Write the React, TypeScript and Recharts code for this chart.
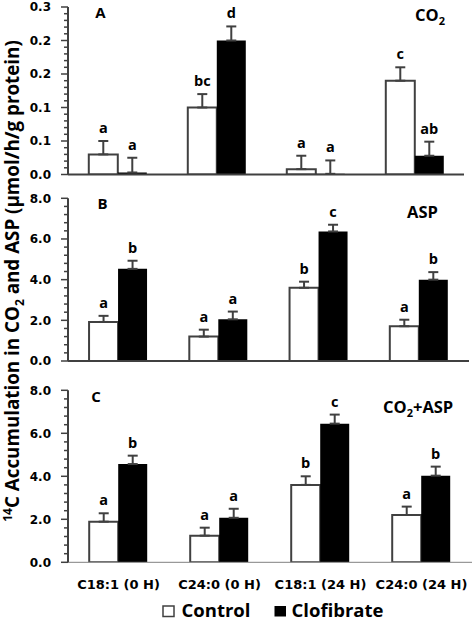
import React from 'react';
import { BarChart, Bar, XAxis, YAxis, ErrorBar, LabelList } from 'recharts';

const categories = ['C18:1 (0 H)', 'C24:0 (0 H)', 'C18:1 (24 H)', 'C24:0 (24 H)'];
const seriesNames = ['Control', 'Clofibrate'];

// Panel A: CO2
const co2Control = [0.03, 0.1, 0.008, 0.14];
const co2ControlErr = [0.02, 0.02, 0.02, 0.02];
const co2ControlSig = ['a', 'bc', 'a', 'c'];
const co2Clofibrate = [0.003, 0.2, 0.001, 0.028];
const co2ClofibrateErr = [0.022, 0.021, 0.02, 0.021];
const co2ClofibrateSig = ['a', 'd', 'a', 'ab'];
const co2TickLabels = ['0.0', '0.1', '0.1', '0.2', '0.2', '0.3'];

// Panel B: ASP
const aspControl = [1.92, 1.2, 3.6, 1.71];
const aspControlErr = [0.3, 0.34, 0.3, 0.32];
const aspControlSig = ['a', 'a', 'b', 'a'];
const aspClofibrate = [4.53, 2.05, 6.37, 4.0];
const aspClofibrateErr = [0.4, 0.38, 0.33, 0.37];
const aspClofibrateSig = ['b', 'a', 'c', 'b'];
const aspTickLabels = ['0.0', '2.0', '4.0', '6.0', '8.0'];

// Panel C: CO2 + ASP
const totControl = [1.89, 1.24, 3.6, 2.2];
const totControlErr = [0.39, 0.37, 0.4, 0.39];
const totControlSig = ['a', 'a', 'b', 'a'];
const totClofibrate = [4.57, 2.07, 6.45, 4.03];
const totClofibrateErr = [0.39, 0.42, 0.42, 0.42];
const totClofibrateSig = ['b', 'a', 'c', 'b'];
const totTickLabels = ['0.0', '2.0', '4.0', '6.0', '8.0'];

const DARK = '#404040';
const TICK_FONT = "'DejaVu Sans', sans-serif";
const TEXT_FONT = "'Open Sans', sans-serif";

function buildRows(
  ctrl: number[], ctrlErr: number[], ctrlSig: string[],
  clof: number[], clofErr: number[], clofSig: string[]
) {
  return categories.map((cat, i) => ({
    cat,
    pos: i + 0.5,
    ctrl: ctrl[i],
    ctrlErr: [0, ctrlErr[i]],
    ctrlGap: ctrlErr[i],
    ctrlSig: ctrlSig[i],
    clof: clof[i],
    clofErr: [0, clofErr[i]],
    clofGap: clofErr[i],
    clofSig: clofSig[i],
  }));
}

const rowsA = buildRows(co2Control, co2ControlErr, co2ControlSig, co2Clofibrate, co2ClofibrateErr, co2ClofibrateSig);
const rowsB = buildRows(aspControl, aspControlErr, aspControlSig, aspClofibrate, aspClofibrateErr, aspClofibrateSig);
const rowsC = buildRows(totControl, totControlErr, totControlSig, totClofibrate, totClofibrateErr, totClofibrateSig);

function makeTicks(max: number, step: number) {
  const n = Math.round(max / step);
  const out: number[] = [];
  for (let i = 0; i <= n; i++) out.push(+(i * step).toFixed(6));
  return out;
}

const YTick = (props: any) => {
  const { x, y, payload, step, perMajor, labels } = props;
  const k = Math.round(payload.value / step);
  const major = k % perMajor === 0;
  return (
    <g>
      <line x1={x - (major ? 7 : 4)} x2={x} y1={y} y2={y} stroke={DARK} strokeWidth={1.5} />
      {major && (
        <text x={x - 17} y={y} dy="0.36em" textAnchor="end" fontFamily={TICK_FONT} fontWeight="bold" fontSize={12} fill="#000">
          {labels[k / perMajor]}
        </text>
      )}
    </g>
  );
};

const XTick = (props: any) => {
  const { x, y, payload } = props;
  return (
    <text x={x} y={y + 15.7} dy="0.36em" textAnchor="middle" fontFamily={TICK_FONT} fontWeight="bold" fontSize={13} fill="#000">
      {payload.value}
    </text>
  );
};

const sigStyle = { fontFamily: TEXT_FONT, fontWeight: 700, fontSize: 14.5, fill: '#000' };

type PanelProps = {
  rows: any[];
  top: number;
  height: number;
  marginTop: number;
  marginRight: number;
  gridAxisHeight: number;
  catAxisHeight: number;
  max: number;
  step: number;
  perMajor: number;
  labels: string[];
  showCategories: boolean;
  xAxisStroke: string;
  xAxisWidth: number;
};

function Panel(p: PanelProps) {
  const ticks = makeTicks(p.max, p.step);
  return (
    <div style={{ position: 'absolute', left: 0, top: p.top, width: 473, height: p.height }}>
      <BarChart
        width={473}
        height={p.height}
        data={p.rows}
        margin={{ top: p.marginTop, right: p.marginRight, bottom: 0, left: 0 }}
        barGap={0}
        barCategoryGap="21%"
        style={{ overflow: 'visible' }}
      >
        <XAxis
          xAxisId="b_cat"
          dataKey="cat"
          hide={!p.showCategories}
          axisLine={false}
          tickLine={false}
          tickSize={0}
          tickMargin={0}
          interval={0}
          height={p.catAxisHeight}
          tick={<XTick />}
        />
        <XAxis
          xAxisId="a_grid"
          dataKey="pos"
          type="number"
          domain={[0, 4]}
          ticks={[0, 1, 2, 3, 4]}
          allowDataOverflow
          tick={false}
          tickSize={5}
          height={p.gridAxisHeight}
          axisLine={{ stroke: p.xAxisStroke, strokeWidth: p.xAxisWidth }}
          tickLine={{ stroke: '#808080', strokeWidth: 1 }}
        />
        <YAxis
          width={68}
          type="number"
          domain={[0, p.max]}
          allowDataOverflow
          ticks={ticks}
          interval={0}
          tickSize={0}
          tickMargin={0}
          tickLine={false}
          axisLine={{ stroke: DARK, strokeWidth: 2 }}
          tick={<YTick step={p.step} perMajor={p.perMajor} labels={p.labels} />}
        />
        <Bar xAxisId="b_cat" dataKey="ctrl" name={seriesNames[0]} stackId="ctrl" fill="#ffffff" stroke={DARK} strokeWidth={2} isAnimationActive={false}>
          <ErrorBar dataKey="ctrlErr" direction="y" width={5} stroke={DARK} strokeWidth={2} />
        </Bar>
        <Bar xAxisId="b_cat" dataKey="ctrlGap" stackId="ctrl" fill="none" stroke="none" isAnimationActive={false}>
          <LabelList dataKey="ctrlSig" position="top" offset={8} style={sigStyle} />
        </Bar>
        <Bar xAxisId="b_cat" dataKey="clof" name={seriesNames[1]} stackId="clof" fill="#000000" isAnimationActive={false}>
          <ErrorBar dataKey="clofErr" direction="y" width={5} stroke={DARK} strokeWidth={2} />
        </Bar>
        <Bar xAxisId="b_cat" dataKey="clofGap" stackId="clof" fill="none" stroke="none" isAnimationActive={false}>
          <LabelList dataKey="clofSig" position="top" offset={8} style={sigStyle} />
        </Bar>
      </BarChart>
    </div>
  );
}

export default function App() {
  return (
    <div style={{ position: 'absolute', left: 0, top: 0, width: 473, height: 622, background: '#fff', overflow: 'hidden' }}>
      <Panel rows={rowsA} top={0} height={185} marginTop={7} marginRight={9} gridAxisHeight={10.5} catAxisHeight={0}
        max={0.25} step={0.01} perMajor={5} labels={co2TickLabels} showCategories={false} xAxisStroke={DARK} xAxisWidth={2} />
      <Panel rows={rowsB} top={185} height={185} marginTop={13.3} marginRight={4} gridAxisHeight={9} catAxisHeight={0}
        max={8} step={0.4} perMajor={5} labels={aspTickLabels} showCategories={false} xAxisStroke={DARK} xAxisWidth={2} />
      <Panel rows={rowsC} top={375} height={247} marginTop={15.3} marginRight={1} gridAxisHeight={6} catAxisHeight={53.7}
        max={8} step={0.4} perMajor={5} labels={totTickLabels} showCategories={true} xAxisStroke="#808080" xAxisWidth={1} />
      <svg width={473} height={622} style={{ position: 'absolute', left: 0, top: 0, pointerEvents: 'none' }}>
        <g fontFamily={TEXT_FONT} fontWeight="bold" fill="#000">
          <text x={100.5} y={17.5} fontSize={15} textAnchor="middle">A</text>
          <text x={102.5} y={208.5} fontSize={15} textAnchor="middle">B</text>
          <text x={96} y={402} fontSize={15} textAnchor="middle">C</text>
          <text x={415} y={21} fontSize={16.5}>
            CO<tspan fontSize={11} dy={4}>2</tspan>
          </text>
          <text x={407} y={218} fontSize={16.5}>ASP</text>
          <text x={383} y={413} fontSize={16.5}>
            CO<tspan fontSize={11} dy={4}>2</tspan><tspan dy={-4}>+ASP</tspan>
          </text>
          <text transform="translate(19, 281) rotate(-90)" fontSize={18.8} textAnchor="middle">
            <tspan fontSize={12} dy={-7}>14</tspan>
            <tspan dy={7}>C Accumulation in CO</tspan>
            <tspan fontSize={12} dy={5}>2</tspan>
            <tspan dy={-5}> and ASP (µmol/h/g protein)</tspan>
          </text>
        </g>
        <g>
          <rect x={163} y={606} width={11} height={10.5} fill="#fff" stroke={DARK} strokeWidth={1.5} />
          <text x={181.5} y={616.5} fontFamily={TEXT_FONT} fontWeight="bold" fontSize={18.5} fill="#000">{seriesNames[0]}</text>
          <rect x={274.5} y={606} width={11.5} height={10.5} fill="#000" />
          <text x={291.5} y={616.5} fontFamily={TEXT_FONT} fontWeight="bold" fontSize={18.5} fill="#000">{seriesNames[1]}</text>
        </g>
      </svg>
    </div>
  );
}
